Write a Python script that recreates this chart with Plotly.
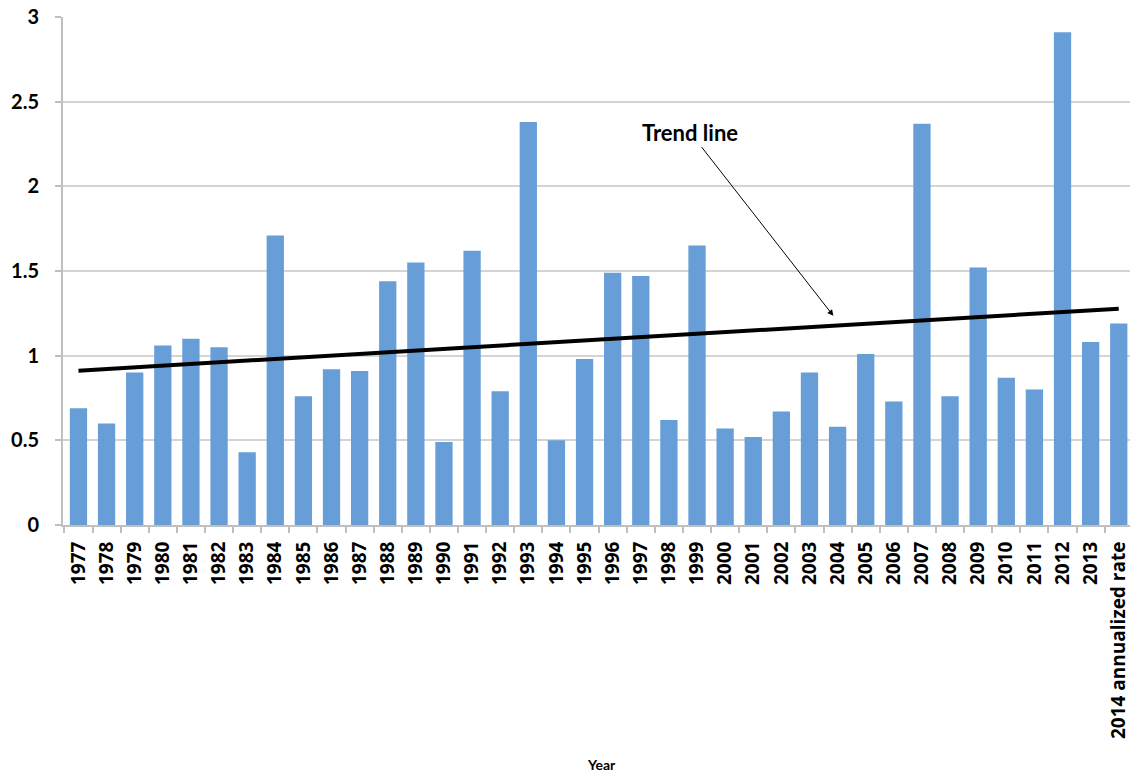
import numpy as np
import plotly.graph_objects as go

years = [str(y) for y in range(1977, 2014)] + ["2014 annualized rate"]
values = [0.69, 0.60, 0.90, 1.06, 1.10, 1.05, 0.43, 1.71, 0.76, 0.92, 0.91, 1.44,
          1.55, 0.49, 1.62, 0.79, 2.38, 0.50, 0.98, 1.49, 1.47, 0.62, 1.65, 0.57,
          0.52, 0.67, 0.90, 0.58, 1.01, 0.73, 2.37, 0.76, 1.52, 0.87, 0.80, 2.91,
          1.08, 1.19]
y_ticks = [0, 0.5, 1, 1.5, 2, 2.5, 3]
y_ticktext = ["0", "0.5", "1", "1.5", "2", "2.5", "3"]

# linear trend line (least squares over category index)
idx = np.arange(len(values))
slope, intercept = np.polyfit(idx, values, 1)
trend = slope * idx + intercept

FONT = "Lato"
XFONT = "Open Sans"
fig = go.Figure()
fig.add_trace(go.Bar(x=years, y=values, marker=dict(color="#679ed7", line=dict(width=0)),
                     showlegend=False))
fig.add_trace(go.Scatter(x=years, y=trend, mode="lines",
                         line=dict(color="black", width=4), showlegend=False))

fig.add_annotation(x=26.85, y=1.235, xref="x", yref="y",
                   ax=21.75, ay=2.32, axref="x", ayref="y",
                   text="Trend line", showarrow=True, arrowhead=2, arrowsize=1.2,
                   arrowwidth=1, arrowcolor="black",
                   font=dict(family=FONT, size=22, color="black", weight=700))

fig.add_annotation(x=0.505, y=-0.472, xref="paper", yref="paper",
                   text="Year", showarrow=False, xanchor="center", yanchor="middle",
                   font=dict(family=FONT, size=14, color="black", weight=700))

fig.update_layout(
    width=1130, height=772,
    margin=dict(l=63, r=0, t=17, b=247),
    plot_bgcolor="white", paper_bgcolor="white",
    bargap=0.385,
    xaxis=dict(type="category", range=[-0.55, 37.4], tickangle=-90, automargin=False,
               tickfont=dict(family=XFONT, size=19, color="black", weight=700),
               ticks="outside", tickson="boundaries", ticklen=6, tickcolor="#bfbfbf",
               tickwidth=1.5, ticklabelstandoff=7, ticklabeloverflow="allow",
               showline=True, linecolor="#bfbfbf", linewidth=2, showgrid=False),
    yaxis=dict(range=[0, 3], tickvals=y_ticks, ticktext=y_ticktext, automargin=False,
               tickfont=dict(family=FONT, size=20, color="black", weight=700),
               ticks="outside", ticklen=6, tickcolor="#bfbfbf", tickwidth=1.5,
               ticklabelstandoff=12, ticklabeloverflow="allow",
               showline=True, linecolor="#bfbfbf", linewidth=2,
               showgrid=True, gridcolor="#d4d4d4", gridwidth=2,
               zeroline=False),
)

fig.write_html("out.html", config={"displayModeBar": False},
               post_script="document.body.style.margin='0';")
